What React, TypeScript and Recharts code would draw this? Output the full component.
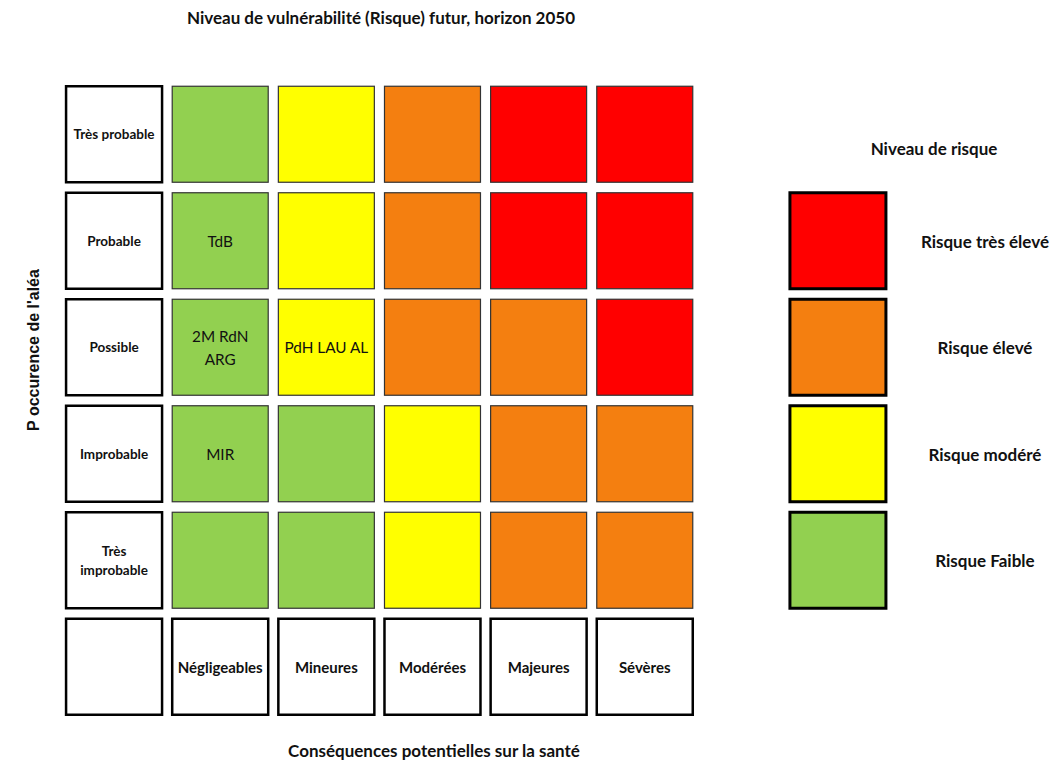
import React from 'react';
import { ScatterChart, Scatter, XAxis, YAxis } from 'recharts';

// rows top -> bottom
const probabilities = ['Très probable', 'Probable', 'Possible', 'Improbable', 'Très improbable'];
const consequences = ['Négligeables', 'Mineures', 'Modérées', 'Majeures', 'Sévères'];

// risk level per cell: 0 faible, 1 modéré, 2 élevé, 3 très élevé
const riskGrid = [
  [0, 1, 2, 3, 3],
  [0, 1, 2, 3, 3],
  [0, 1, 2, 2, 3],
  [0, 0, 1, 2, 2],
  [0, 0, 1, 2, 2],
];

const cellNotes = [
  ['', '', '', '', ''],
  ['TdB', '', '', '', ''],
  ['2M RdN\nARG', 'PdH LAU AL', '', '', ''],
  ['MIR', '', '', '', ''],
  ['', '', '', '', ''],
];

const riskColors = ['#92D050', '#FFFF00', '#F47F10', '#FF0000'];
// legend top -> bottom
const legendLevels = [3, 2, 1, 0];
const legendLabels = ['Risque très élevé', 'Risque élevé', 'Risque modéré', 'Risque Faible'];

const LEGEND_X = 6.82;
const CELL = 96;
const FONT = 'Lato, "Noto Sans", sans-serif';

type Cell = { x: number; y: number; kind: string; level?: number; text?: string };

const cells: Cell[] = [];
probabilities.forEach((p, r) => {
  const y = probabilities.length - r;
  cells.push({ x: 0, y, kind: 'rowLabel', text: p === 'Très improbable' ? 'Très\nimprobable' : p });
  consequences.forEach((_, c) => {
    cells.push({ x: c + 1, y, kind: 'risk', level: riskGrid[r][c], text: cellNotes[r][c] });
  });
});
cells.push({ x: 0, y: 0, kind: 'colLabel', text: '' });
consequences.forEach((c, i) => cells.push({ x: i + 1, y: 0, kind: 'colLabel', text: c }));
legendLevels.forEach((lvl, i) => {
  cells.push({ x: LEGEND_X, y: probabilities.length - 1 - i, kind: 'legend', level: lvl, text: legendLabels[i] });
});

const MultiText = ({ x, y, text, size, weight, lh }: any) => {
  const lines = (text || '').split('\n');
  const start = y - ((lines.length - 1) * lh) / 2;
  return (
    <text x={x} textAnchor="middle" dominantBaseline="central" fontFamily={FONT}
      fontSize={size} fontWeight={weight} fill="#111">
      {lines.map((l: string, i: number) => (
        <tspan key={i} x={x} y={start + i * lh}>{l}</tspan>
      ))}
    </text>
  );
};

const CellShape = (props: any) => {
  const { cx, cy, payload } = props;
  const h = CELL / 2;
  if (payload.kind === 'risk') {
    return (
      <g>
        <rect x={cx - h} y={cy - h} width={CELL} height={CELL} fill={riskColors[payload.level]}
          stroke="#333" strokeWidth={1.2} />
        <MultiText x={cx} y={cy} text={payload.text} size={15.3} weight="normal" lh={23} />
      </g>
    );
  }
  if (payload.kind === 'legend') {
    return (
      <g>
        <rect x={cx - h} y={cy - h} width={CELL} height={CELL} fill={riskColors[payload.level]}
          stroke="#000" strokeWidth={3} />
        <MultiText x={cx + 147} y={cy} text={payload.text} size={17} weight="bold" lh={20} />
      </g>
    );
  }
  return (
    <g>
      <rect x={cx - h} y={cy - h} width={CELL} height={CELL} fill="#fff" stroke="#000" strokeWidth={2.5} />
      <MultiText x={cx} y={cy} text={payload.text}
        size={payload.kind === 'rowLabel' ? 13.5 : 15} weight="bold" lh={19} />
    </g>
  );
};

export default function App() {
  return (
    <div style={{ position: 'absolute', left: 0, top: 0, width: 1062, height: 761, background: '#fff' }}>
      <ScatterChart width={1062} height={761} margin={{ top: 81, right: 171, bottom: 41, left: 61 }}>
        <XAxis type="number" dataKey="x" domain={[-0.5, 7.32]} hide />
        <YAxis type="number" dataKey="y" domain={[-0.5, 5.5]} hide />
        <Scatter data={cells} shape={CellShape} isAnimationActive={false} />
        <text x={381} y={17} textAnchor="middle" dominantBaseline="central" fontFamily={FONT}
          fontSize={17} fontWeight="bold" fill="#111">
          Niveau de vulnérabilité (Risque) futur, horizon 2050
        </text>
        <text x={434} y={750} textAnchor="middle" dominantBaseline="central" fontFamily={FONT}
          fontSize={17} fontWeight="bold" fill="#111">
          Conséquences potentielles sur la santé
        </text>
        <text x={934} y={148} textAnchor="middle" dominantBaseline="central" fontFamily={FONT}
          fontSize={17} fontWeight="bold" fill="#111">
          Niveau de risque
        </text>
        <text x={33} y={350} textAnchor="middle" dominantBaseline="central"
          fontFamily='"Liberation Sans", Arial, sans-serif' fontSize={16} fontWeight="bold"
          fill="#111" transform="rotate(-90 33 350)">
          P occurence de l'aléa
        </text>
      </ScatterChart>
    </div>
  );
}
